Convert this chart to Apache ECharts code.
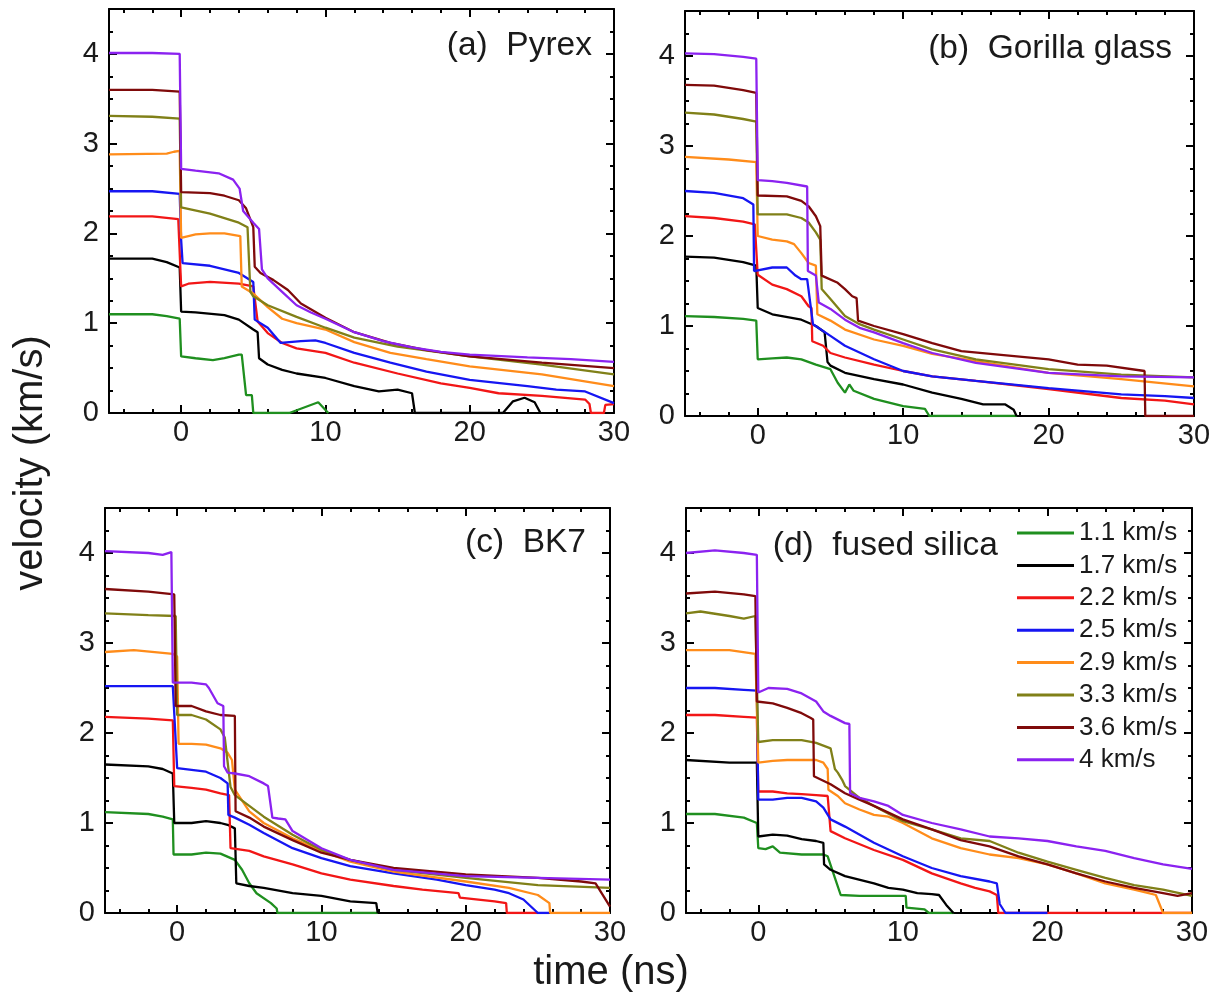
<!DOCTYPE html>
<html><head><meta charset="utf-8">
<script src="https://cdn.jsdelivr.net/npm/echarts@6/dist/echarts.min.js"></script>
<style>html,body{margin:0;padding:0;background:#fff}#c{width:1221px;height:999px}</style>
</head><body><div id="c"></div>
<script>
// ---------- categories / labels ----------
const speeds = ['1.1 km/s','1.7 km/s','2.2 km/s','2.5 km/s','2.9 km/s','3.3 km/s','3.6 km/s','4 km/s'];
const colors = ['#1f8f1f','#000000','#f21616','#1616f2','#ff8c1a','#808018','#7f0a0a','#8b22f0'];
const panelTitles = ['(a)  Pyrex','(b)  Gorilla glass','(c)  BK7','(d)  fused silica'];
const xMajorTicks = [0,10,20,30];
const xMinorTicks = [-4,-2,2,4,6,8,12,14,16,18,22,24,26,28];
const yMajorTicks = [0,1,2,3,4];
const yMinorTicks = [0.25,0.5,0.75,1.25,1.5,1.75,2.25,2.5,2.75,3.25,3.5,3.75,4.25];

// ---------- (a) Pyrex ----------
const pyrex11 = [[-5,1.1],[-2,1.1],[-1,1.08],[-0.1,1.05],[0,0.63],[1,0.61],[2.2,0.59],[3,0.61],[4,0.65],[4.2,0.65],[4.5,0.2],[4.9,0.2],[5.0,0],[7.5,0],[9.5,0.12],[10.2,0]];
const pyrex17 = [[-5,1.72],[-2,1.72],[-1,1.68],[-0.1,1.62],[0,1.13],[1,1.12],[3,1.09],[4,1.04],[5,0.93],[5.3,0.9],[5.4,0.61],[6,0.54],[7,0.48],[8,0.44],[10,0.39],[12,0.3],[13.7,0.24],[15,0.26],[16,0.22],[16.2,0],[22.3,0],[23,0.13],[23.8,0.17],[24.5,0.12],[24.9,0]];
const pyrex22 = [[-5,2.19],[-2,2.19],[-0.2,2.16],[0,1.41],[0.5,1.44],[2,1.46],[4,1.44],[5,1.41],[5.3,1.02],[6,0.89],[7,0.78],[8,0.72],[10,0.67],[12,0.56],[15,0.44],[18,0.33],[20,0.28],[22,0.22],[25,0.19],[28,0.15],[28.3,0.1],[28.4,0],[29.3,0],[29.4,0.09],[30,0.1]];
const pyrex25 = [[-5,2.47],[-2,2.47],[-0.1,2.44],[0,1.93],[0.1,1.67],[2,1.64],[4,1.56],[5,1.46],[5.1,1.04],[6,0.95],[6.9,0.78],[8.3,0.8],[9.3,0.81],[10,0.78],[12,0.67],[14.5,0.56],[17,0.46],[20,0.37],[24,0.3],[26,0.26],[28,0.24],[30,0.11]];
const pyrex29 = [[-5,2.88],[-1,2.89],[-0.5,2.91],[-0.1,2.92],[0,1.95],[1,1.99],[2,2.0],[3,2.0],[4.1,1.97],[4.2,1.41],[5,1.33],[6,1.18],[7,1.05],[8,1.0],[10,0.93],[12,0.79],[14.5,0.67],[17,0.6],[20,0.52],[25,0.43],[30,0.3]];
const pyrex33 = [[-5,3.31],[-2,3.3],[-0.1,3.28],[0,2.29],[2,2.22],[4,2.12],[4.6,2.07],[4.8,1.35],[5,1.3],[6,1.2],[8,1.07],[10,0.95],[12,0.84],[15,0.74],[20,0.63],[25,0.54],[30,0.43]];
const pyrex36 = [[-5,3.6],[-2,3.6],[-0.1,3.58],[0,2.46],[2,2.45],[3,2.42],[4,2.37],[4.5,2.28],[5,2.07],[5.1,1.63],[5.5,1.56],[6.4,1.48],[7.4,1.37],[8.3,1.22],[10,1.06],[12,0.9],[14.5,0.78],[17,0.7],[20,0.63],[25,0.56],[30,0.5]];
const pyrex40 = [[-5,4.01],[-2,4.01],[-0.1,4.0],[0,2.72],[1,2.7],[2.6,2.67],[3.6,2.6],[4.05,2.5],[4.3,2.25],[5,2.12],[5.4,2.05],[5.6,1.6],[6,1.5],[7,1.35],[8,1.2],[9,1.12],[10,1.05],[12,0.9],[14,0.8],[16,0.73],[18,0.68],[20,0.65],[24,0.62],[27,0.6],[30,0.57]];

// ---------- (b) Gorilla glass ----------
const gorilla11 = [[-5,1.11],[-3,1.1],[-1,1.08],[-0.1,1.06],[0,0.63],[1,0.64],[2,0.65],[3,0.63],[4,0.57],[5,0.52],[5.5,0.37],[6,0.26],[6.3,0.35],[6.6,0.28],[8,0.19],[10,0.11],[11.5,0.08],[11.8,0],[17.8,0]];
const gorilla17 = [[-5,1.77],[-3,1.76],[-1,1.71],[-0.1,1.67],[0,1.2],[1,1.13],[3,1.07],[4,1.0],[4.6,0.93],[4.8,0.6],[5,0.56],[6,0.48],[8,0.41],[10,0.35],[12,0.26],[14,0.19],[15.5,0.13],[17,0.13],[17.6,0.07],[17.8,0]];
const gorilla22 = [[-5,2.22],[-3,2.2],[-1,2.16],[-0.2,2.13],[0,1.57],[1,1.46],[2,1.41],[3,1.33],[3.5,1.22],[3.7,1.2],[3.75,0.83],[4.5,0.78],[5,0.7],[6,0.65],[8,0.57],[10,0.5],[12,0.44],[15,0.39],[20,0.3],[25,0.2],[28,0.17],[30,0.13]];
const gorilla25 = [[-5,2.5],[-3,2.48],[-1,2.42],[-0.3,2.35],[-0.25,1.61],[1,1.65],[2,1.65],[2.6,1.56],[3,1.52],[3.4,1.52],[3.8,1.02],[5,0.89],[6,0.78],[8,0.63],[10,0.5],[12,0.44],[15,0.39],[20,0.31],[25,0.24],[28,0.22],[30,0.2]];
const gorilla29 = [[-5,2.88],[-2,2.85],[-0.1,2.82],[0,2.0],[1,1.96],[2,1.94],[2.5,1.91],[3,1.81],[3.5,1.7],[4,1.67],[4.1,1.13],[5,1.06],[6,0.96],[8,0.85],[10,0.78],[12,0.69],[15,0.61],[20,0.48],[25,0.41],[30,0.33]];
const gorilla33 = [[-5,3.37],[-3,3.35],[-1,3.3],[-0.1,3.27],[0,2.24],[2,2.24],[3,2.2],[3.5,2.15],[4,2.04],[4.3,1.96],[4.4,1.41],[5,1.3],[6,1.11],[7,1.02],[8,0.96],[10,0.85],[12,0.74],[15,0.63],[20,0.52],[25,0.46],[30,0.43]];
const gorilla36 = [[-5,3.68],[-3,3.67],[-1,3.62],[-0.1,3.59],[0,2.45],[2,2.44],[3,2.39],[3.5,2.33],[4,2.22],[4.3,2.11],[4.4,1.56],[5.5,1.48],[6,1.41],[6.5,1.33],[6.8,1.31],[6.9,1.06],[8,1.0],[10,0.91],[12,0.81],[14,0.72],[16,0.69],[20,0.63],[22,0.57],[24,0.56],[26.6,0.5],[26.65,0],[30,0]];
const gorilla40 = [[-5,4.03],[-3,4.02],[-1,3.99],[-0.1,3.97],[0,2.62],[1,2.61],[2,2.59],[3.4,2.55],[3.45,1.61],[4,1.56],[4.2,1.26],[5,1.19],[6,1.07],[7,0.98],[8,0.93],[10,0.81],[12,0.7],[15,0.59],[20,0.48],[25,0.44],[30,0.43]];

// ---------- (c) BK7 ----------
const bk7_11 = [[-5,1.12],[-2,1.1],[-1,1.07],[-0.3,1.04],[-0.25,0.65],[1,0.65],[2,0.67],[3,0.66],[4,0.59],[4.5,0.48],[5,0.33],[5.5,0.22],[6.5,0.11],[6.9,0.05],[6.95,0],[13.9,0]];
const bk7_17 = [[-5,1.65],[-2,1.63],[-1,1.6],[-0.3,1.55],[-0.2,1.0],[1,1.0],[2,1.02],[3,1.0],[3.5,0.98],[4,0.94],[4.1,0.33],[5,0.3],[6,0.28],[8,0.22],[10,0.19],[12,0.13],[13.8,0.11],[13.9,0]];
const bk7_22 = [[-5,2.18],[-2,2.16],[-0.3,2.14],[-0.2,1.41],[1,1.39],[2,1.37],[3,1.33],[3.6,1.31],[3.7,0.72],[5,0.69],[6,0.63],[8,0.54],[10,0.44],[12,0.37],[15,0.3],[17,0.26],[19.5,0.22],[19.6,0.17],[22,0.13],[22.8,0.11],[22.85,0],[25,0]];
const bk7_25 = [[-5,2.52],[-1,2.52],[-0.3,2.52],[0,1.61],[1,1.59],[2,1.57],[3,1.5],[3.5,1.44],[3.55,1.09],[4,1.06],[5,0.98],[6,0.89],[8,0.72],[10,0.61],[12,0.52],[15,0.44],[18,0.37],[20,0.31],[22,0.26],[23,0.22],[24,0.15],[25,0],[25.8,0]];
const bk7_29 = [[-5,2.9],[-3,2.92],[-0.3,2.88],[0,2.85],[0.1,1.88],[1,1.88],[2,1.87],[3,1.83],[3.5,1.78],[3.8,1.7],[4,1.37],[5,1.13],[6,1.0],[8,0.83],[10,0.69],[12,0.57],[15,0.46],[20,0.35],[23,0.28],[25,0.2],[25.8,0.11],[25.85,0],[30,0]];
const bk7_33 = [[-5,3.33],[-2,3.31],[-0.1,3.3],[0,2.2],[1,2.2],[2,2.15],[3,2.04],[3.3,1.95],[3.7,1.4],[4,1.31],[5,1.19],[6,1.07],[8,0.87],[10,0.7],[12,0.59],[15,0.48],[20,0.39],[25,0.31],[30,0.28]];
const bk7_36 = [[-5,3.6],[-2,3.57],[-0.2,3.54],[-0.1,2.3],[1,2.3],[2,2.24],[3,2.2],[4,2.19],[4.05,1.13],[5,1.06],[6,0.96],[8,0.81],[10,0.67],[12,0.59],[15,0.5],[20,0.43],[25,0.39],[28,0.35],[29,0.33],[30,0.07]];
const bk7_40 = [[-5,4.02],[-2,4.0],[-1,3.98],[-0.4,4.01],[-0.3,2.56],[1,2.56],[2,2.54],[2.2,2.5],[2.8,2.33],[3.2,2.3],[3.25,1.63],[3.5,1.56],[4,1.55],[5,1.52],[6,1.44],[6.3,1.41],[6.6,1.06],[7,1.05],[7.5,1.04],[8,0.91],[10,0.72],[12,0.59],[15,0.48],[20,0.41],[25,0.39],[30,0.37]];

// ---------- (d) fused silica ----------
const silica11 = [[-5,1.1],[-3,1.1],[-1,1.06],[-0.1,1.0],[0,0.72],[0.5,0.71],[1,0.74],[1.5,0.67],[3,0.65],[4.5,0.65],[4.8,0.63],[5.3,0.39],[5.7,0.2],[7,0.19],[9,0.19],[10.2,0.19],[10.25,0.06],[11.5,0.04],[11.8,0],[13.5,0]];
const silica17 = [[-5,1.7],[-2,1.67],[-1,1.67],[-0.1,1.67],[0,0.85],[1,0.87],[2,0.86],[3,0.82],[4,0.8],[4.5,0.78],[4.55,0.54],[5,0.48],[6,0.41],[8,0.33],[9,0.28],[10,0.26],[11,0.22],[12,0.21],[12.5,0.2],[13,0.09],[13.5,0]];
const silica22 = [[-5,2.2],[-3,2.2],[-1,2.18],[-0.1,2.17],[0,1.35],[1,1.35],[2,1.33],[3,1.32],[4,1.31],[4.8,1.3],[5,0.91],[6,0.83],[8,0.7],[10,0.59],[12,0.44],[14,0.33],[15,0.28],[16,0.24],[16.5,0.2],[16.6,0],[30,0]];
const silica25 = [[-5,2.5],[-3,2.5],[-1,2.48],[-0.1,2.47],[0,1.26],[1,1.26],[2,1.28],[3,1.28],[4,1.24],[4.5,1.17],[5,1.04],[6,0.96],[8,0.78],[10,0.63],[12,0.5],[14,0.41],[16,0.35],[16.5,0.33],[16.7,0.1],[17.1,0],[20,0]];
const silica29 = [[-5,2.92],[-2,2.92],[-0.2,2.88],[0,1.67],[1,1.69],[2,1.7],[4,1.7],[4.5,1.67],[4.8,1.6],[4.85,1.37],[5.5,1.3],[6,1.22],[7,1.15],[8,1.09],[9,1.07],[10,1.0],[12,0.83],[14,0.72],[16,0.65],[18,0.61],[20,0.54],[22,0.44],[24,0.33],[26,0.26],[27,0.22],[27.5,0.2],[28,0],[30,0]];
const silica33 = [[-5,3.33],[-4,3.35],[-2,3.3],[-1,3.27],[-0.2,3.3],[0,1.9],[1,1.92],[3,1.92],[4,1.89],[5,1.83],[5.3,1.6],[5.5,1.56],[5.8,1.48],[6,1.41],[7,1.28],[8,1.19],[10,1.02],[12,0.93],[14,0.83],[16,0.8],[18,0.67],[20,0.57],[22,0.48],[24,0.39],[26,0.31],[28,0.26],[30,0.19]];
const silica36 = [[-5,3.55],[-3,3.57],[-1,3.54],[-0.2,3.52],[-0.1,2.35],[1,2.33],[2,2.28],[3,2.22],[3.6,2.17],[3.8,2.15],[3.85,1.52],[5,1.43],[6,1.33],[7,1.26],[8,1.19],[10,1.04],[12,0.93],[14,0.81],[16,0.74],[18,0.63],[20,0.54],[22,0.44],[24,0.35],[26,0.28],[28,0.22],[29,0.19],[30,0.22]];
const silica40 = [[-5,4.0],[-3,4.03],[-1,4.0],[-0.1,3.98],[0,2.45],[0.7,2.5],[2,2.49],[3,2.44],[4,2.35],[4.5,2.24],[5,2.19],[6,2.11],[6.3,2.1],[6.35,1.33],[7,1.28],[8,1.24],[9,1.19],[10,1.09],[12,1.0],[14,0.93],[16,0.85],[18,0.83],[20,0.8],[22,0.74],[24,0.69],[26,0.61],[28,0.54],[30,0.49]];

const panels = [
  [pyrex11,pyrex17,pyrex22,pyrex25,pyrex29,pyrex33,pyrex36,pyrex40],
  [gorilla11,gorilla17,gorilla22,gorilla25,gorilla29,gorilla33,gorilla36,gorilla40],
  [bk7_11,bk7_17,bk7_22,bk7_25,bk7_29,bk7_33,bk7_36,bk7_40],
  [silica11,silica17,silica22,silica25,silica29,silica33,silica36,silica40]
];

// ---------- layout ----------
const gridBoxes = [
  {left:109, top:9,   width:505, height:404},
  {left:685, top:11,  width:509, height:405},
  {left:105, top:508, width:505, height:405},
  {left:686, top:508, width:506, height:405}
];
const FONT = 'Liberation Sans, Arial, sans-serif';
const tickFont = 29;
const TXT = '#1a1a1a';

const grids = [];
gridBoxes.forEach(b => grids.push(Object.assign({containLabel:false}, b)));
gridBoxes.forEach(b => grids.push(Object.assign({containLabel:false}, b))); // overlay grids carry the minor ticks

const xAxes = [], yAxes = [];
for (let g = 0; g < 8; g++) {
  const major = g < 4;
  ['bottom','top'].forEach(pos => {
    xAxes.push({
      type:'value', gridIndex:g, position:pos, min:-5, max:30,
      axisLine:{show:major, onZero:false, lineStyle:{color:'#000', width:2}},
      splitLine:{show:false}, axisPointer:{show:false},
      axisTick:{show:true, inside:true, length: major ? 8 : 4, lineStyle:{color:'#000', width:2},
                customValues: major ? xMajorTicks : xMinorTicks},
      axisLabel:(major && pos === 'bottom') ?
        {show:true, customValues:xMajorTicks, fontSize:tickFont, fontFamily:FONT, color:TXT, margin:5} :
        {show:false}
    });
  });
  ['left','right'].forEach(pos => {
    yAxes.push({
      type:'value', gridIndex:g, position:pos, min:0, max:4.5,
      axisLine:{show:major, onZero:false, lineStyle:{color:'#000', width:2}},
      splitLine:{show:false}, axisPointer:{show:false},
      axisTick:{show:true, inside:true, length: major ? 8 : 4, lineStyle:{color:'#000', width:2},
                customValues: major ? yMajorTicks : yMinorTicks},
      axisLabel:(major && pos === 'left') ?
        {show:true, customValues:yMajorTicks, fontSize:tickFont, fontFamily:FONT, color:TXT, margin:10} :
        {show:false}
    });
  });
}

const series = [];
panels.forEach((panel, p) => {
  panel.forEach((data, s) => {
    series.push({
      type:'line', name: speeds[s], data: data,
      xAxisIndex: 2*p, yAxisIndex: 2*p,
      showSymbol:false, symbol:'none', smooth:false, clip:true,
      lineStyle:{color: colors[s], width:2.3},
      itemStyle:{color: colors[s]},
      emphasis:{disabled:true}, silent:true
    });
  });
});

const titlePos = [
  {x:592, y:46}, {x:1172, y:49}, {x:586, y:543}, {x:998, y:546}
];
const graphics = panelTitles.map((t, i) => ({
  type:'text', x:titlePos[i].x, y:titlePos[i].y, silent:true,
  style:{text:t, fill:TXT, font:'33.5px ' + FONT, textAlign:'right', textVerticalAlign:'middle'}
}));
graphics.push({type:'text', x:611, y:973, silent:true,
  style:{text:'time (ns)', fill:TXT, font:'40px ' + FONT, textAlign:'center', textVerticalAlign:'middle'}});
graphics.push({type:'text', x:31, y:463, rotation:Math.PI/2, silent:true,
  style:{text:'velocity (km/s)', fill:TXT, font:'40px ' + FONT, textAlign:'center', textVerticalAlign:'middle'}});

const chart = echarts.init(document.getElementById('c'), null, {renderer:'canvas'});
chart.setOption({
  animation:false,
  backgroundColor:'#fff',
  grid: grids,
  xAxis: xAxes,
  yAxis: yAxes,
  legend: {
    data: speeds, orient:'vertical', left:1017, top:520, padding:0,
    icon:'rect', itemWidth:57, itemHeight:3, itemGap:6.4,
    textStyle:{fontSize:26, fontFamily:FONT, color:TXT, lineHeight:26},
    selectedMode:false
  },
  graphic: graphics,
  series: series
});
</script></body></html>
